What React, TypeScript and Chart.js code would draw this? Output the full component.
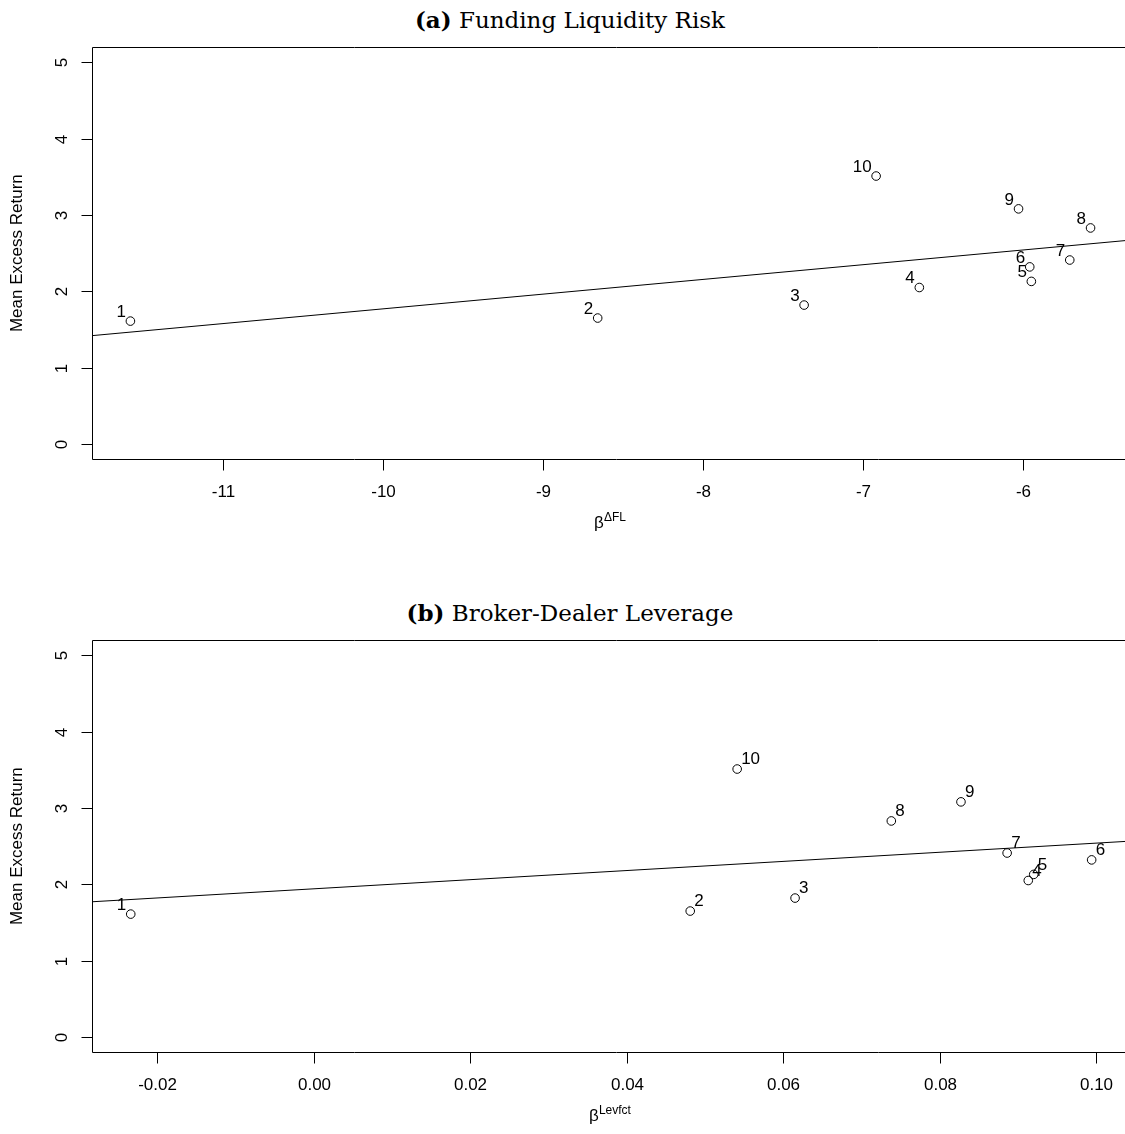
import React, { useEffect, useRef } from "react";
import { Chart, registerables } from "chart.js";

Chart.register(...registerables);

// ---- data ----
const portfolios = ["1", "2", "3", "4", "5", "6", "7", "8", "9", "10"];
const meanExcessReturn = [1.61, 1.65, 1.82, 2.05, 2.13, 2.32, 2.41, 2.83, 3.08, 3.51];
const betaFL = [-11.58, -8.66, -7.37, -6.65, -5.95, -5.96, -5.71, -5.58, -6.03, -6.92];
const betaLev = [-0.0234, 0.0481, 0.0615, 0.0913, 0.092, 0.0994, 0.0886, 0.0738, 0.0827, 0.0541];
const labelSidesFL = ["left", "left", "left", "left", "left", "left", "left", "left", "left", "left"];
const labelSidesLev = ["left", "right", "right", "right", "right", "right", "right", "right", "right", "right"];
const yTicks = [0, 1, 2, 3, 4, 5];
const yTickLabels = ["0", "1", "2", "3", "4", "5"];
const xTicksFL = [-11, -10, -9, -8, -7, -6];
const xTickLabelsFL = ["-11", "-10", "-9", "-8", "-7", "-6"];
const xTicksLev = [-0.02, 0, 0.02, 0.04, 0.06, 0.08, 0.1];
const xTickLabelsLev = ["-0.02", "0.00", "0.02", "0.04", "0.06", "0.08", "0.10"];

const CW = 1160;
const CH = 593;
const SANS = "'Liberation Sans', Arial, Helvetica, sans-serif";

function ols(x: number[], y: number[]) {
  const n = x.length;
  const mx = x.reduce((s, v) => s + v, 0) / n;
  const my = y.reduce((s, v) => s + v, 0) / n;
  let sxx = 0;
  let sxy = 0;
  for (let i = 0; i < n; i++) {
    sxx += (x[i] - mx) * (x[i] - mx);
    sxy += (x[i] - mx) * (y[i] - my);
  }
  const b = sxy / sxx;
  return { a: my - b * mx, b };
}

type PanelProps = {
  top: number;
  xs: number[];
  xmin: number;
  xmax: number;
  xTicks: number[];
  xTickLabels: string[];
  sup: string;
  labelSides: string[];
};

function Panel({ top, xs, xmin, xmax, xTicks, xTickLabels, sup, labelSides }: PanelProps) {
  const ref = useRef<HTMLCanvasElement>(null);
  useEffect(() => {
    if (!ref.current) return;
    const fit = ols(xs, meanExcessReturn);
    const rAxes = {
      id: "rAxes",
      afterDatasetsDraw(chart: any) {
        const ctx = chart.ctx as CanvasRenderingContext2D;
        const ca = chart.chartArea;
        const xs_ = chart.scales.x;
        const ys_ = chart.scales.y;
        ctx.save();
        ctx.strokeStyle = "#000";
        ctx.fillStyle = "#000";
        ctx.lineWidth = 1;
        // box
        const L = Math.round(ca.left) + 0.5;
        const T = Math.round(ca.top) + 0.5;
        const R = Math.round(ca.right) + 0.5;
        const B = Math.round(ca.bottom) + 0.5;
        ctx.beginPath();
        ctx.moveTo(R, T);
        ctx.lineTo(L, T);
        ctx.lineTo(L, B);
        ctx.lineTo(R, B);
        ctx.stroke();
        // x ticks
        ctx.font = "17px " + SANS;
        ctx.textAlign = "center";
        ctx.textBaseline = "middle";
        xTicks.forEach((v, i) => {
          const px = Math.round(xs_.getPixelForValue(v)) + 0.5;
          ctx.beginPath();
          ctx.moveTo(px, B);
          ctx.lineTo(px, B + 11);
          ctx.stroke();
          ctx.fillText(xTickLabels[i], px, B + 33);
        });
        // y ticks
        yTicks.forEach((v, i) => {
          const py = Math.round(ys_.getPixelForValue(v)) + 0.5;
          ctx.beginPath();
          ctx.moveTo(L, py);
          ctx.lineTo(L - 11, py);
          ctx.stroke();
          ctx.save();
          ctx.translate(62, py);
          ctx.rotate(-Math.PI / 2);
          ctx.fillText(yTickLabels[i], 0, 0);
          ctx.restore();
        });
        // y title
        ctx.save();
        ctx.font = "17px " + SANS;
        ctx.translate(17, (ca.top + ca.bottom) / 2);
        ctx.rotate(-Math.PI / 2);
        ctx.fillText("Mean Excess Return", 0, 0);
        ctx.restore();
        // x title: beta with superscript
        ctx.textBaseline = "alphabetic";
        ctx.textAlign = "left";
        ctx.font = "17px " + SANS;
        const wb = ctx.measureText("\u03B2").width;
        ctx.font = "12px " + SANS;
        const ws = ctx.measureText(sup).width;
        const cx = 610;
        const x0 = cx - (wb + ws) / 2;
        ctx.font = "17px " + SANS;
        ctx.fillText("\u03B2", x0, B + 68);
        ctx.font = "12px " + SANS;
        ctx.fillText(sup, x0 + wb, B + 61);
        // point labels
        ctx.font = "17px " + SANS;
        ctx.textBaseline = "middle";
        portfolios.forEach((lab, i) => {
          const px = xs_.getPixelForValue(xs[i]);
          const py = ys_.getPixelForValue(meanExcessReturn[i]);
          const left = labelSides[i] === "left";
          ctx.textAlign = left ? "right" : "left";
          const dx = left ? -4.5 : 4;
          const dy = left ? -9 : -9.5;
          ctx.fillText(lab, px + dx, py + dy);
        });
        ctx.restore();
      },
    };
    const chart = new Chart(ref.current, {
      type: "scatter",
      data: {
        datasets: [
          {
            data: [
              { x: xmin, y: fit.a + fit.b * xmin },
              { x: xmax, y: fit.a + fit.b * xmax },
            ],
            showLine: true,
            borderColor: "#000",
            borderWidth: 1,
            pointRadius: 0,
            fill: false,
          } as any,
          {
            data: xs.map((x, i) => ({ x, y: meanExcessReturn[i] })),
            pointStyle: "circle",
            pointRadius: 4.3,
            borderColor: "#000",
            borderWidth: 1,
            backgroundColor: "rgba(0,0,0,0)",
          } as any,
        ],
      },
      options: {
        responsive: false,
        animation: false,
        events: [],
        layout: { padding: { left: 92, top: 47, right: CW - 1140, bottom: CH - 459.3 } },
        plugins: { legend: { display: false }, tooltip: { enabled: false } },
        scales: {
          x: { type: "linear", display: false, min: xmin, max: xmax },
          y: { type: "linear", display: false, min: -0.2, max: 5.2 },
        },
      } as any,
      plugins: [rAxes as any],
    });
    return () => chart.destroy();
  }, []);
  return (
    <canvas
      ref={ref}
      width={CW}
      height={CH}
      style={{ position: "absolute", left: 0, top, width: CW, height: CH, display: "block" }}
    />
  );
}

function Title({ top, tag, text }: { top: number; tag: string; text: string }) {
  return (
    <div
      style={{
        position: "absolute",
        left: 0,
        top,
        width: 1140,
        textAlign: "center",
        fontFamily: "'DejaVu Serif', 'Liberation Serif', serif",
        fontSize: 23,
        lineHeight: "26px",
        color: "#000",
        whiteSpace: "nowrap",
      }}
    >
      <b>{tag}</b> {text}
    </div>
  );
}

export default function App() {
  return (
    <div
      style={{
        position: "fixed",
        left: 0,
        top: 0,
        width: 1125,
        height: 1134,
        overflow: "hidden",
        background: "#fff",
      }}
    >
      <Title top={7} tag="(a)" text="Funding Liquidity Risk" />
      <Panel
        top={0}
        xs={betaFL}
        xmin={-11.82}
        xmax={-5.271}
        xTicks={xTicksFL}
        xTickLabels={xTickLabelsFL}
        sup={"\u0394FL"}
        labelSides={labelSidesFL}
      />
      <Title top={600} tag="(b)" text="Broker-Dealer Leverage" />
      <Panel
        top={593}
        xs={betaLev}
        xmin={-0.02835}
        xmax={0.10558}
        xTicks={xTicksLev}
        xTickLabels={xTickLabelsLev}
        sup="Levfct"
        labelSides={labelSidesLev}
      />
    </div>
  );
}
